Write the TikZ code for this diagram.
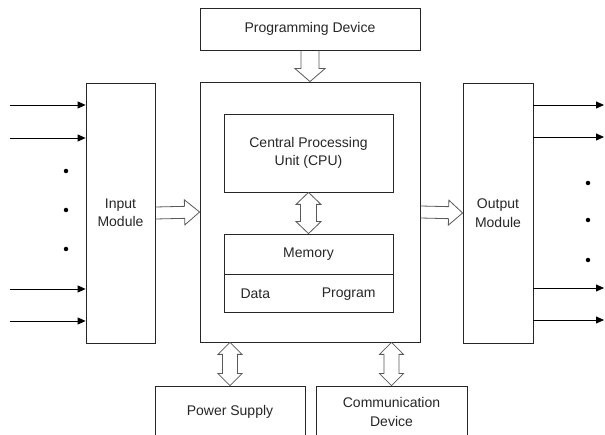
\documentclass[tikz,border=0pt]{standalone}
\usepackage{fontspec}
\setmainfont{Liberation Sans}
\usetikzlibrary{calc,arrows.meta}

% single hollow arrow: #1 from, #2 to, #3 shaft half width, #4 head half width, #5 head length
\newcommand\hollowone[5]{%
  \coordinate (ha) at ($(#2)!#5!(#1)$);
  \draw[hollow] ($(#1)!#3!90:(#2)$) -- ($(ha)!#3!90:(#2)$) -- ($(ha)!#4!90:(#2)$)
    -- (#2) -- ($(ha)!#4!-90:(#2)$) -- ($(ha)!#3!-90:(#2)$) -- ($(#1)!#3!-90:(#2)$);
}
% double-headed hollow arrow, same arguments
\newcommand\hollowtwo[5]{%
  \coordinate (hp) at ($(#1)!#5!(#2)$);
  \coordinate (hq) at ($(#2)!#5!(#1)$);
  \draw[hollow] (#1) -- ($(hp)!#4!90:(#2)$) -- ($(hp)!#3!90:(#2)$) -- ($(hq)!#3!90:(#2)$)
    -- ($(hq)!#4!90:(#2)$) -- (#2) -- ($(hq)!#4!-90:(#2)$) -- ($(hq)!#3!-90:(#2)$)
    -- ($(hp)!#3!-90:(#2)$) -- ($(hp)!#4!-90:(#2)$) -- cycle;
}

\begin{document}
\begin{tikzpicture}[x=1pt, y=-1pt,
  every node/.style={font=\fontsize{14}{18.5}\selectfont, text=black!85},
  box/.style={draw=black!85, line width=0.8pt, inner sep=0pt, align=center},
  hollow/.style={draw=black!65, line width=0.8pt, line join=miter},
  sig/.style={draw=black, line width=0.8pt, -{Triangle[length=8pt,width=7pt]}},
  dotmark/.style={fill=black, draw=none, circle, minimum size=4.5pt, inner sep=0pt}]

\clip (0,0) rectangle (605,435);
\useasboundingbox (0,0) rectangle (605,435);

% blocks
\node[box, minimum width=220pt, minimum height=42pt] (pd) at (310,29) {Programming Device};
\node[box, minimum width=220pt, minimum height=260pt] (main) at (310,212) {};
\node[box, minimum width=69pt, minimum height=260pt] (in) at (120.5,213) {Input\\Module};
\node[box, minimum width=70pt, minimum height=260pt] (out) at (498,213) {Output\\Module};
\node[box, minimum width=169pt, minimum height=78pt] (cpu) at (308.5,153) {Central Processing\\Unit (CPU)};
\node[box, minimum width=169pt, minimum height=78pt] (mem) at (308.5,273) {};
\node[box, minimum width=150pt, minimum height=52pt] (ps) at (230,412) {Power Supply};
\node[box, minimum width=151pt, minimum height=52pt] (cd) at (391.5,412) {Communication\\Device};

% memory compartments
\coordinate (mdl) at ($(mem.north west)!0.513!(mem.south west)$);
\coordinate (mdr) at ($(mem.north east)!0.513!(mem.south east)$);
\draw[black!85, line width=0.8pt] (mdl) -- (mdr);
\node (memt) at (308.5,254.5) {Memory};
\node[anchor=west] (dat) at (237,294) {Data};
\node[anchor=east] (prg) at (379,294) {Program};

% wide arrows
\hollowone{pd.south}{main.north}{9pt}{15pt}{13pt}
\hollowone{in.east}{main.west}{6pt}{12.5pt}{15pt}
\hollowone{main.east}{out.west}{6pt}{12.5pt}{14pt}
\hollowtwo{cpu.south}{mem.north}{8pt}{12.5pt}{12pt}
\coordinate (pstop) at (ps.north |- main.south);
\coordinate (cdtop) at (cd.north |- main.south);
\hollowtwo{pstop}{ps.north}{7.5pt}{12pt}{12pt}
\hollowtwo{cdtop}{cd.north}{7.5pt}{12pt}{12pt}

% input signals
\foreach \k/\yy in {1/105, 2/138, 3/289, 4/321} {
  \coordinate (i\k) at (10,\yy);
  \draw[sig] (i\k) -- (in.west |- i\k);
}
\foreach \k/\yy in {1/171, 2/210, 3/249}
  \node[dotmark] (idot\k) at (66,\yy) {};

% output signals
\foreach \k/\yy in {1/105, 2/137, 3/288, 4/320} {
  \coordinate (o\k) at (604,\yy);
  \draw[sig] (out.east |- o\k) -- (o\k);
}
\foreach \k/\yy in {1/183, 2/220, 3/260}
  \node[dotmark] (odot\k) at (588,\yy) {};

\end{tikzpicture}
\end{document}
